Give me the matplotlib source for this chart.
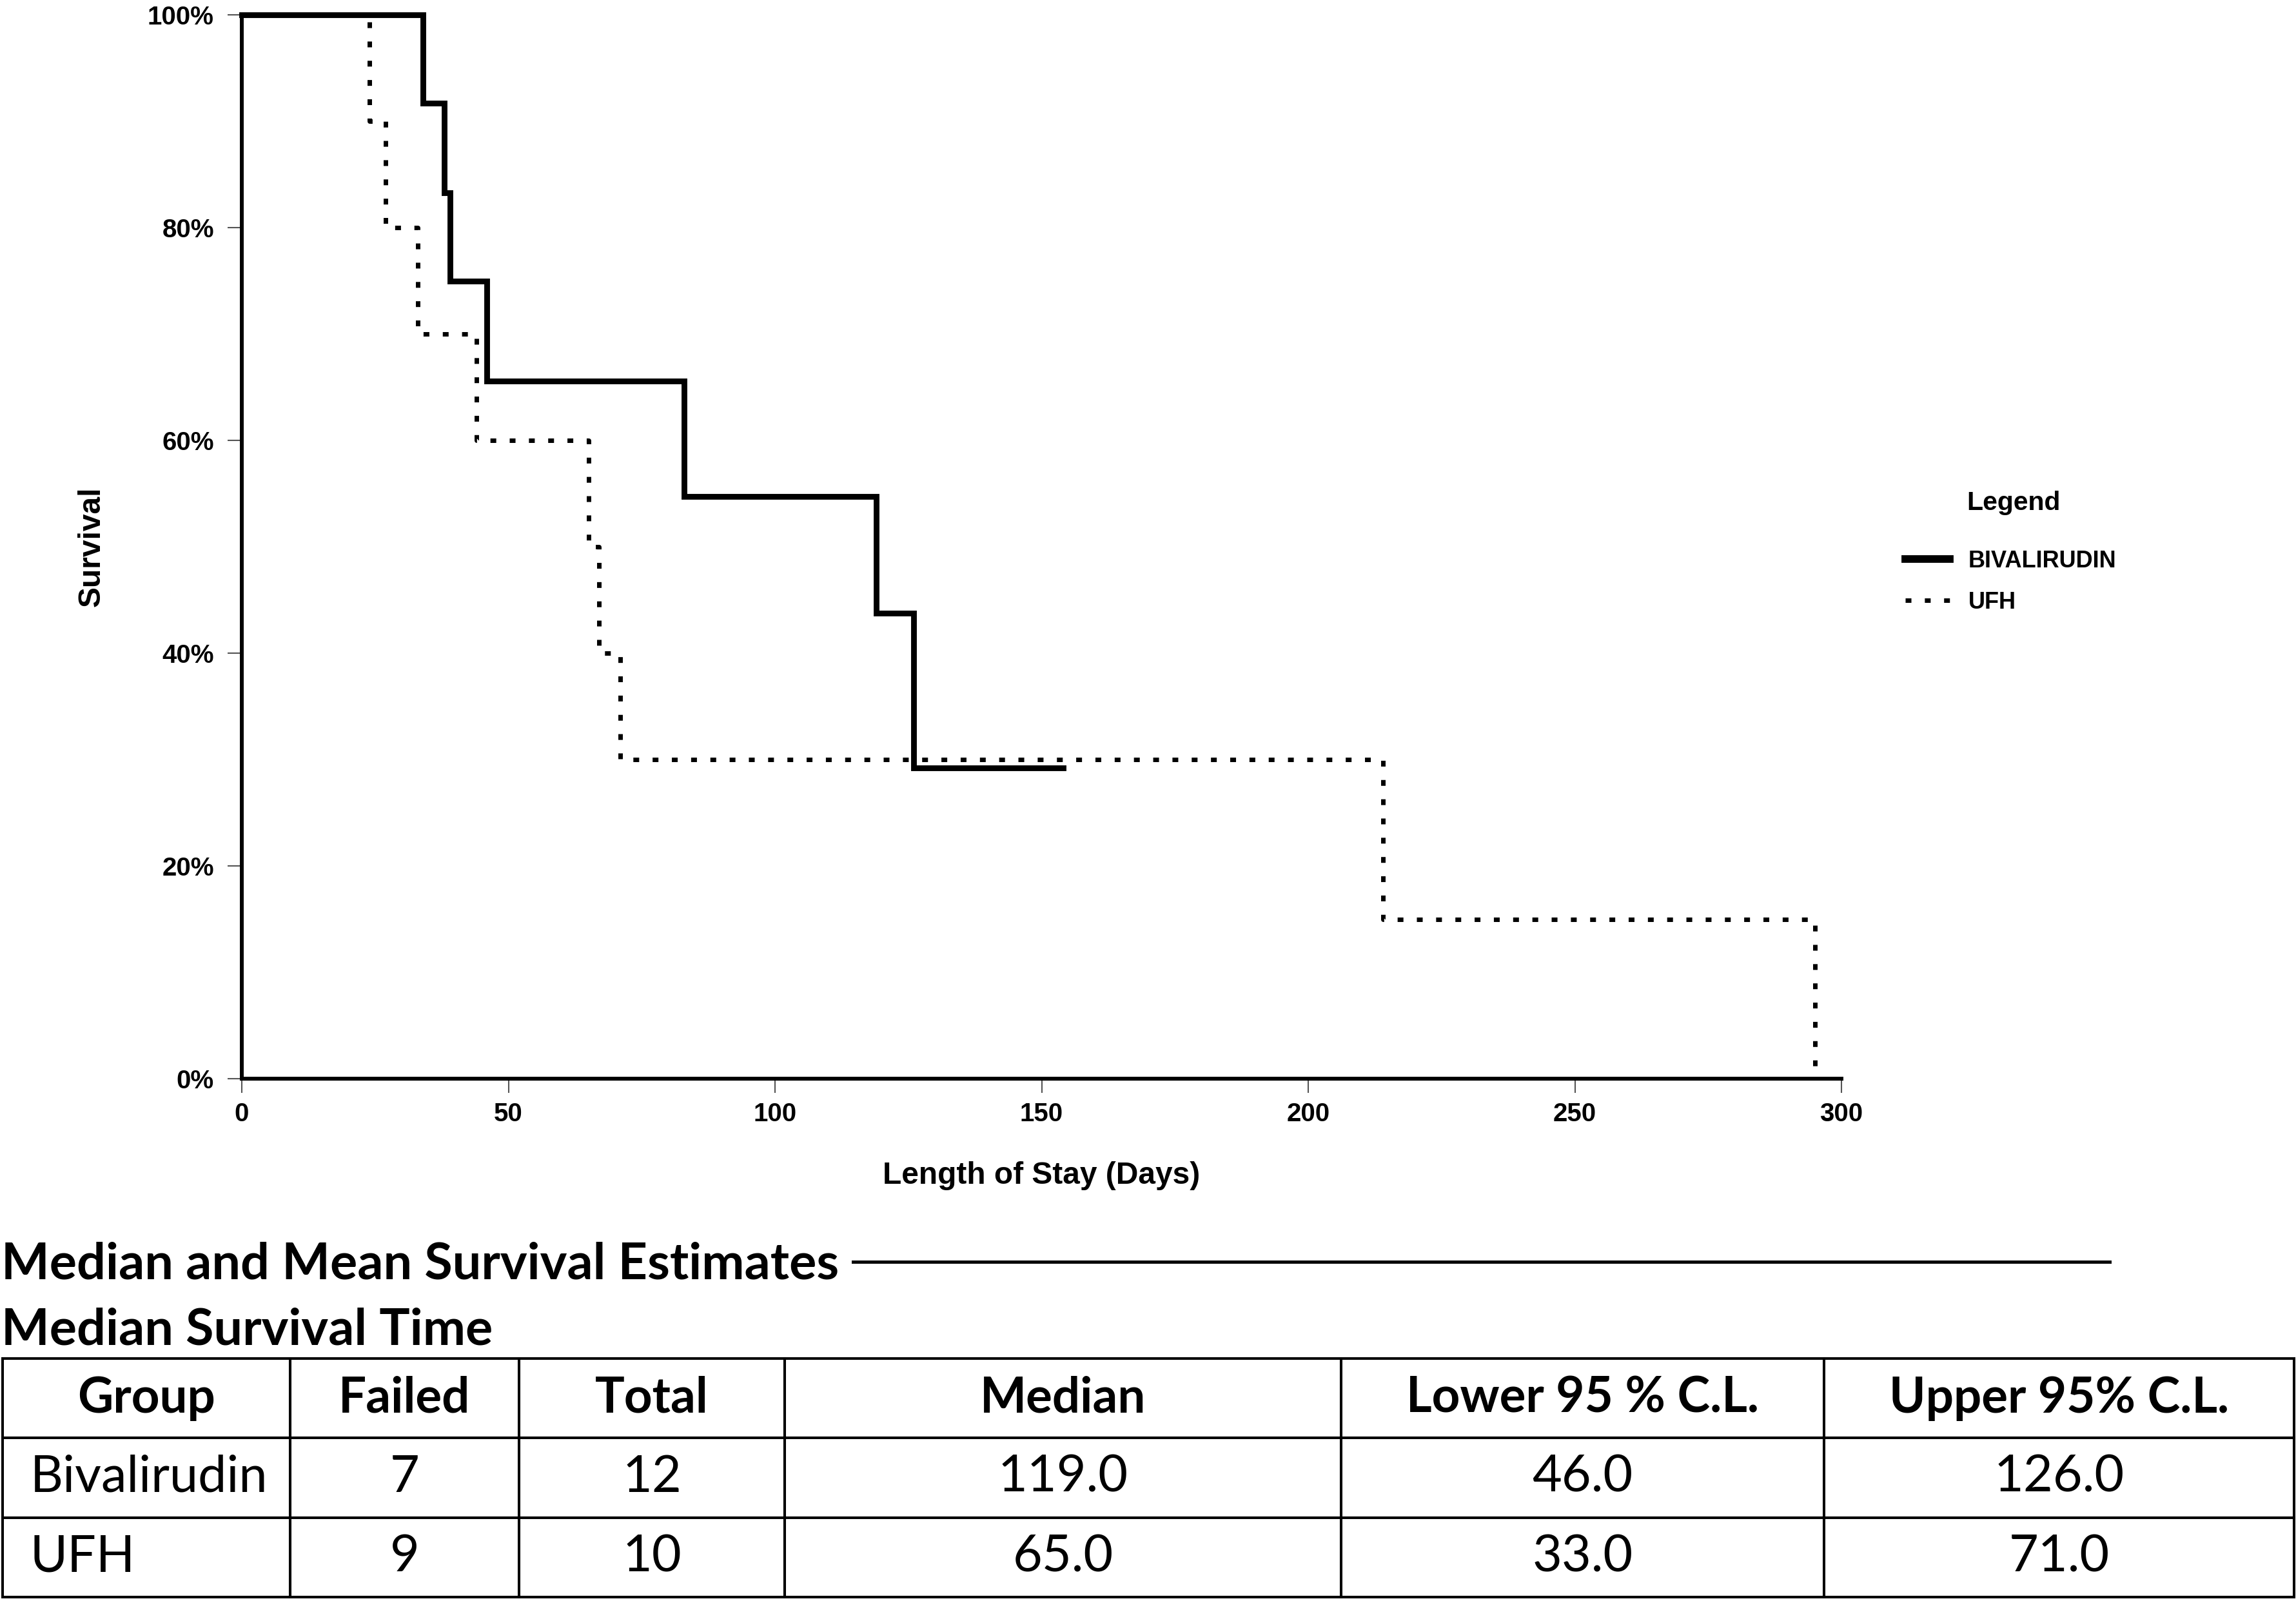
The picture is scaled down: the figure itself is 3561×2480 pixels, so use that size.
import matplotlib
matplotlib.use("Agg")
import matplotlib.pyplot as plt
from matplotlib.lines import Line2D
from matplotlib.font_manager import FontProperties

# Kaplan-Meier steps (days, survival fraction)
bival_days = [0, 34, 38, 39, 46, 83, 119, 126, 154]
bival_surv = [1.0, 0.917, 0.833, 0.75, 0.656, 0.547, 0.4375, 0.292, 0.292]
ufh_days = [0, 24, 27, 33, 44, 65, 67, 71, 214, 295]
ufh_surv = [1.0, 0.9, 0.8, 0.7, 0.6, 0.5, 0.4, 0.3, 0.15, 0.0]

x_ticks = [0, 50, 100, 150, 200, 250, 300]
y_ticks = [0, 0.2, 0.4, 0.6, 0.8, 1.0]
y_tick_labels = ["0%", "20%", "40%", "60%", "80%", "100%"]

# median survival table
col_labels = ["Group", "Failed", "Total", "Median", "Lower 95 % C.L.", "Upper 95% C.L."]
groups = ["Bivalirudin", "UFH"]
failed = [7, 9]
total = [12, 10]
median = [119.0, 65.0]
lower_cl = [46.0, 33.0]
upper_cl = [126.0, 71.0]

W, H = 3561, 2480
fig = plt.figure(figsize=(W / 100, H / 100), dpi=100)


def fx(px):
    return px / W


def fy(py):
    return 1 - py / H


arial_b = dict(family="Liberation Sans", weight="bold")

ax = fig.add_axes([fx(375), fy(1673), (2856 - 375) / W, (1673 - 23) / H])
ax.step(bival_days, bival_surv, where="post", color="black", lw=6.4,
        solid_joinstyle="miter", clip_on=False, label="BIVALIRUDIN", zorder=3)
ax.step(ufh_days, ufh_surv, where="post", color="black", lw=5,
        linestyle=(0, (1.3, 3.0)), dash_capstyle="butt", clip_on=False,
        label="UFH", zorder=4)

ax.set_xlim(0, 300)
ax.set_ylim(0, 1)
ax.set_xticks(x_ticks)
ax.set_xticklabels([str(t) for t in x_ticks], fontsize=29, **arial_b)
ax.set_yticks(y_ticks)
ax.set_yticklabels(y_tick_labels, fontsize=29, **arial_b)
ax.tick_params(axis="both", direction="out", length=16, width=1.5, color="#555555")
ax.tick_params(axis="x", pad=10)
ax.tick_params(axis="y", pad=15)
for s in ["top", "right"]:
    ax.spines[s].set_visible(False)
for s in ["left", "bottom"]:
    ax.spines[s].set_linewidth(4.3)

ax.text(0.5, (1673 - 1824) / 1650, "Length of Stay (Days)", transform=ax.transAxes,
        ha="center", va="center", fontsize=34.5, **arial_b)
ax.text((142 - 375) / 2481, 0.5, "Survival", transform=ax.transAxes, rotation=90,
        ha="center", va="center", fontsize=34.5, **arial_b)

# legend
fig.text(fx(3050), fy(780), "Legend", ha="left", va="center", fontsize=29.5, **arial_b)
leg = ax.legend(loc="upper left", bbox_to_anchor=(fx(2955), fy(853)),
                bbox_transform=fig.transFigure, frameon=False, borderpad=0,
                borderaxespad=0, handlelength=1.9, handletextpad=0.8,
                labelspacing=0.8,
                prop=FontProperties(family="Liberation Sans", weight="bold", size=26))
leg.legend_handles[0].set_linewidth(8.5)

# table section
title_font = dict(family="Lato", weight="bold", fontsize=57)
fig.text(fx(2), fy(1983), "Median and Mean Survival Estimates", ha="left",
         va="baseline", **title_font)
fig.text(fx(2), fy(2086), "Median Survival Time", ha="left", va="baseline", **title_font)
fig.add_artist(Line2D([fx(1323), fx(3272)], [fy(1957), fy(1957)], color="black", lw=3.6))

cell_text = []
for i in range(len(groups)):
    cell_text.append([groups[i], str(failed[i]), str(total[i]), f"{median[i]:.1f}",
                      f"{lower_cl[i]:.1f}", f"{upper_cl[i]:.1f}"])

col_px = [446, 355, 412, 863, 749, 729]
col_w = [c / sum(col_px) for c in col_px]

tax = fig.add_axes([fx(4), fy(2477), (3558 - 4) / W, (2477 - 2107) / H])
tax.axis("off")
tbl = tax.table(cellText=cell_text, colLabels=col_labels, colWidths=col_w,
                cellLoc="center", bbox=[0, 0, 1, 1])
tbl.auto_set_font_size(False)
for (r, c), cell in tbl.get_celld().items():
    cell.set_linewidth(2.9)
    cell.set_edgecolor("black")
    t = cell.get_text()
    t.set_fontfamily("Lato")
    if r == 0:
        t.set_fontweight("bold")
        t.set_fontsize(55)
    else:
        t.set_fontsize(57)
    if r > 0 and c == 0:
        t.set_ha("left")
        cell.PAD = 0.095

fig.savefig("out.png", dpi=100)
